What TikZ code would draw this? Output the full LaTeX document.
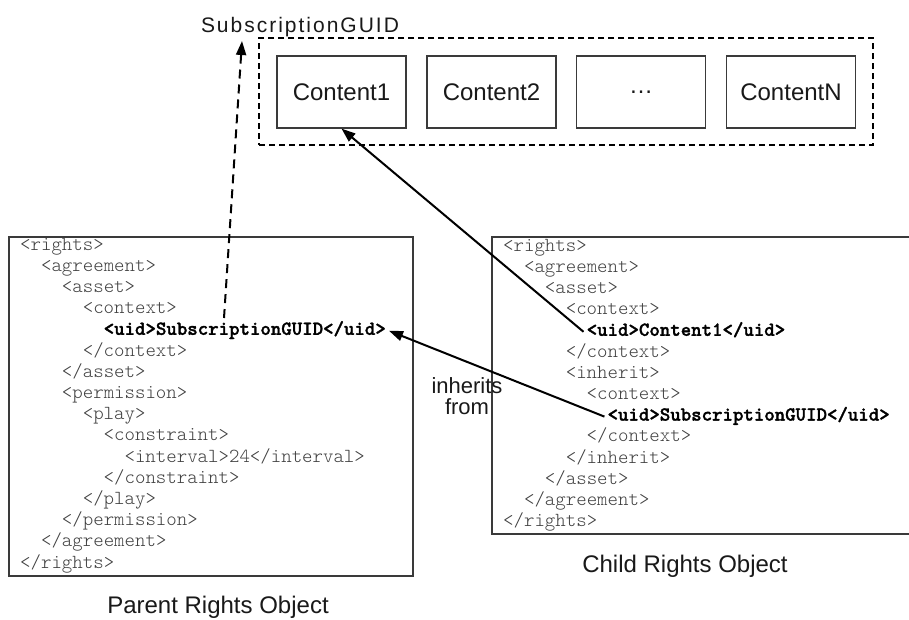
\documentclass[tikz,border=0pt]{standalone}
\usepackage{fontspec}
\setmainfont{Liberation Sans}
\newfontfamily\codefont[BoldFeatures={FakeBold=1.5}]{Latin Modern Mono Light}
\newfontfamily\labelfont[LetterSpace=9.5]{Liberation Sans}
\usetikzlibrary{arrows.meta}
\definecolor{codegray}{HTML}{404040}
\definecolor{boxgray}{HTML}{3A3A3A}
\newcommand\codeln[6]{\node[code] (#1) at ({#2-3+#3*20.88},{#4+21.2*(#5-1)}) {#6};}
\newcommand\bld[1]{{\color{black}\bfseries #1}}
\tikzset{
  code/.style={font=\codefont\fontsize{19.9}{21.2}\selectfont, text=codegray,
    anchor=base west, inner xsep=3pt, inner ysep=0pt, text height=12pt, text depth=4pt},
  codebox/.style={draw=boxgray, line width=1.2pt, inner sep=0pt},
  contentbox/.style={draw=boxgray, line width=1.2pt, inner sep=0pt,
    minimum width=129pt, minimum height=72pt,
    font=\fontsize{24}{28}\selectfont, text=black!90},
  groupbox/.style={draw=black, line width=1.5pt, dash pattern=on 6pt off 4pt, inner sep=0pt},
  captext/.style={font=\fontsize{24}{28}\selectfont, text=black!90, anchor=base, inner sep=0pt},
  arr/.style={draw=black, line width=2pt, -{Triangle[length=14pt,width=10pt]}},
  darr/.style={draw=black, line width=2pt, dash pattern=on 9pt off 6pt,
    -{Triangle[length=14pt,width=10pt]}},
}
\begin{document}
\begin{tikzpicture}[x=1pt,y=-1pt]
\useasboundingbox (0,0) rectangle (909,619);
\fill[white] (0,0) rectangle (909,619);

% top group
\node[groupbox, minimum width=614pt, minimum height=107pt] (group) at (566,91.5) {};
\node[contentbox] (c1) at (341.5,92) {Content1};
\node[contentbox] (c2) at (491.5,92) {Content2};
\node[contentbox] (c3) at (641,92) {\raisebox{-3pt}{\dots}};
\node[contentbox] (cN) at (791,92) {ContentN};
\node[anchor=base, inner sep=0pt, font=\labelfont\fontsize{21}{25}\selectfont, text=black!90] (sublabel) at (300,32) {SubscriptionGUID};

% parent rights object
\node[codebox, minimum width=404pt, minimum height=339pt] (pbox) at (211,406.5) {};
\codeln{p1}{20}{0}{250}{1}{<rights>}
\codeln{p2}{20}{1}{250}{2}{<agreement>}
\codeln{p3}{20}{2}{250}{3}{<asset>}
\codeln{p4}{20}{3}{250}{4}{<context>}
\codeln{puid}{20}{4}{250}{5}{\bld{<uid>SubscriptionGUID</uid>}}
\codeln{p6}{20}{3}{250}{6}{</context>}
\codeln{p7}{20}{2}{250}{7}{</asset>}
\codeln{p8}{20}{2}{250}{8}{<permission>}
\codeln{p9}{20}{3}{250}{9}{<play>}
\codeln{p10}{20}{4}{250}{10}{<constraint>}
\codeln{p11}{20}{5}{250}{11}{<interval>24</interval>}
\codeln{p12}{20}{4}{250}{12}{</constraint>}
\codeln{p13}{20}{3}{250}{13}{</play>}
\codeln{p14}{20}{2}{250}{14}{</permission>}
\codeln{p15}{20}{1}{250}{15}{</agreement>}
\codeln{p16}{20}{0}{250}{16}{</rights>}
\node[captext] (pcap) at (218,613) {Parent Rights Object};

% child rights object
\node[codebox, minimum width=424pt, minimum height=297pt] (cbox) at (704,385.5) {};
\codeln{q1}{503}{0}{251}{1}{<rights>}
\codeln{q2}{503}{1}{251}{2}{<agreement>}
\codeln{q3}{503}{2}{251}{3}{<asset>}
\codeln{q4}{503}{3}{251}{4}{<context>}
\codeln{cuid1}{503}{4}{251}{5}{\bld{<uid>Content1</uid>}}
\codeln{q6}{503}{3}{251}{6}{</context>}
\codeln{q7}{503}{3}{251}{7}{<inherit>}
\codeln{q8}{503}{4}{251}{8}{<context>}
\codeln{cuid2}{503}{5}{251}{9}{\bld{<uid>SubscriptionGUID</uid>}}
\codeln{q10}{503}{4}{251}{10}{</context>}
\codeln{q11}{503}{3}{251}{11}{</inherit>}
\codeln{q12}{503}{2}{251}{12}{</asset>}
\codeln{q13}{503}{1}{251}{13}{</agreement>}
\codeln{q14}{503}{0}{251}{14}{</rights>}
\node[captext] (ccap) at (685,572) {Child Rights Object};

% inherits label
\node[align=center, inner sep=0pt, font=\fontsize{22}{21}\selectfont, text=black!90] (inh) at (467,396) {inherits\\from};

% connectors
\coordinate (dstart) at (224,318);
\coordinate (dend) at (242,41);
\draw[darr] (dstart) -- (dend);
\draw[arr] (cuid2.west) -- (puid.east);
\draw[arr] (cuid1.west) -- (c1.south);
\end{tikzpicture}
\end{document}
